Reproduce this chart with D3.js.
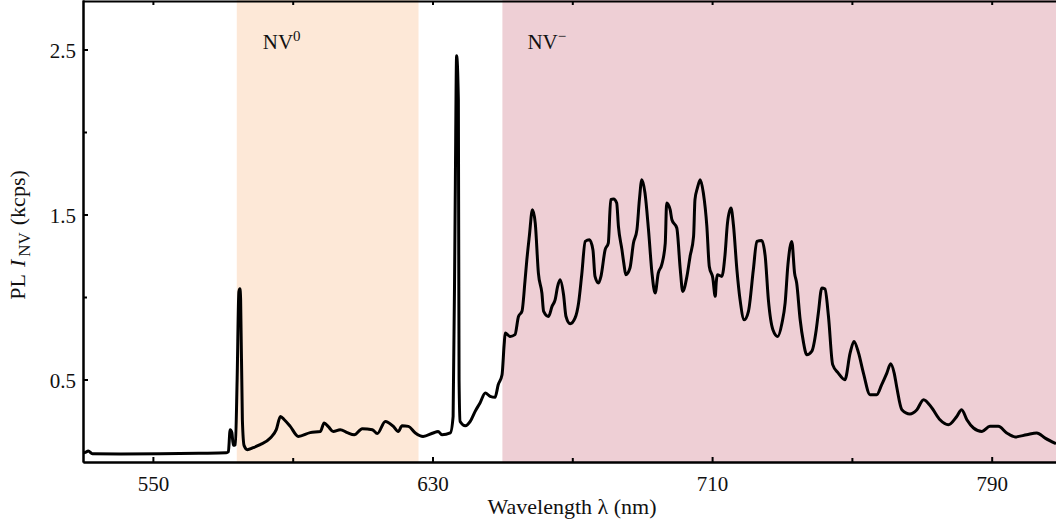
<!DOCTYPE html>
<html>
<head>
<meta charset="utf-8">
<script src="https://cdn.jsdelivr.net/npm/d3@7"></script>
<style>
  body { margin: 0; background: #fff; }
  svg { display: block; font-family: "Liberation Serif", "DejaVu Serif", serif; }
  .axis path, .axis line { stroke: #000; stroke-width: 2; }
  .axis text { font-size: 21px; fill: #111; font-family: "Liberation Serif", "DejaVu Serif", serif; }
  .label { font-size: 21px; fill: #111; font-family: "Liberation Serif", "DejaVu Serif", serif; }
</style>
</head>
<body>
<svg width="1056" height="527"></svg>
<script>
// **** data ****
var wavelength = [530.1, 530.7, 531.5, 532.7, 540.7, 552.1, 563.6, 571.0, 571.6, 572.1, 572.6, 573.0, 573.6, 574.1, 574.6, 574.9, 575.1, 575.6, 576.1, 577.0,
  578.7, 580.7, 583.6, 585.3, 586.5, 587.6, 589.3, 591.6, 595.0, 597.9, 599.0, 600.2, 601.6, 603.6, 605.6, 607.6, 609.9, 612.8, 614.2, 616.5,
  618.8, 620.2, 621.3, 623.1, 625.1, 627.3, 630.2, 631.6, 632.7, 635.1, 635.9, 636.5, 636.9, 637.4, 637.6, 637.9, 639.4, 640.8, 642.2, 643.6,
  645.1, 646.5, 647.9, 648.8, 649.9, 650.5, 650.8, 652.2, 653.6, 654.6, 655.6, 656.5, 657.0, 657.7, 658.6, 659.4, 660.3, 661.3, 661.8, 663.2,
  664.2, 665.1, 665.8, 666.5, 667.5, 668.2, 669.4, 670.8, 671.8, 672.7, 673.7, 674.9, 675.9, 676.5, 677.5, 678.2, 679.4, 680.3, 681.0, 681.8,
  682.7, 683.2, 684.2, 684.8, 685.3, 686.5, 687.5, 688.5, 689.2, 689.9, 690.8, 691.8, 692.8, 693.7, 694.6, 695.6, 696.6, 697.0, 698.0, 698.5,
  699.9, 700.9, 701.6, 702.8, 703.7, 704.7, 705.1, 705.8, 706.6, 707.5, 708.5, 709.2, 710.2, 710.9, 711.2, 711.5, 712.8, 713.7, 714.4, 715.4,
  716.1, 717.1, 718.0, 719.2, 720.4, 721.8, 722.8, 724.2, 725.2, 726.1, 727.4, 728.8, 730.0, 730.9, 731.7, 732.8, 733.6, 734.2, 735.2, 736.1,
  737.1, 738.5, 739.8, 740.4, 741.4, 742.3, 743.3, 744.5, 746.1, 748.0, 749.5, 750.6, 751.9, 753.3, 755.2, 757.1, 758.5, 760.0, 761.1, 762.1,
  762.8, 764.3, 766.6, 768.6, 770.5, 772.9, 775.2, 777.6, 780.0, 781.4, 782.9, 784.8, 787.2, 789.5, 791.9, 794.3, 796.7, 800.0, 802.9, 805.3, 808.4];

var intensity = [0.055, 0.058, 0.067, 0.050, 0.049, 0.050, 0.053, 0.056, 0.062, 0.196, 0.178, 0.101, 0.105, 0.499, 1.032, 1.050, 0.984, 0.256, 0.099, 0.075,
  0.087, 0.105, 0.145, 0.196, 0.276, 0.256, 0.216, 0.155, 0.178, 0.185, 0.236, 0.214, 0.185, 0.196, 0.178, 0.165, 0.202, 0.196, 0.172, 0.246,
  0.216, 0.185, 0.220, 0.216, 0.176, 0.155, 0.176, 0.185, 0.165, 0.176, 0.276, 1.590, 2.462, 2.196, 0.500, 0.246, 0.220, 0.246, 0.307, 0.358,
  0.418, 0.398, 0.392, 0.468, 0.529, 0.711, 0.782, 0.761, 0.772, 0.882, 0.913, 1.105, 1.226, 1.367, 1.529, 1.448, 1.145, 1.024, 0.913, 0.882,
  0.943, 0.984, 1.064, 1.105, 1.014, 0.882, 0.838, 0.873, 0.964, 1.135, 1.337, 1.347, 1.287, 1.125, 1.085, 1.125, 1.287, 1.327, 1.590, 1.594,
  1.570, 1.428, 1.287, 1.196, 1.135, 1.176, 1.327, 1.408, 1.590, 1.711, 1.630, 1.408, 1.145, 1.024, 1.145, 1.196, 1.327, 1.570, 1.529, 1.468,
  1.418, 1.165, 1.034, 1.125, 1.246, 1.367, 1.590, 1.661, 1.711, 1.630, 1.428, 1.185, 1.115, 1.004, 1.093, 1.135, 1.125, 1.256, 1.448, 1.539,
  1.438, 1.165, 0.984, 0.862, 0.913, 1.165, 1.337, 1.343, 1.246, 0.984, 0.802, 0.761, 0.842, 0.964, 1.196, 1.337, 1.145, 1.085, 0.862, 0.731,
  0.650, 0.670, 0.802, 0.903, 1.055, 1.048, 0.882, 0.590, 0.539, 0.499, 0.661, 0.731, 0.661, 0.539, 0.408, 0.408, 0.468, 0.539, 0.596, 0.539,
  0.458, 0.317, 0.291, 0.317, 0.378, 0.327, 0.256, 0.226, 0.276, 0.317, 0.256, 0.206, 0.185, 0.216, 0.216, 0.176, 0.152, 0.165, 0.176, 0.145, 0.111];

var xMajorTicks = [550, 630, 710, 790];
var xMinorTicks = [590, 670, 750];
var yMajorTicks = [0.5, 1.5, 2.5];
var yMinorTicks = [1.0, 2.0];

// shaded bands: [start, end] in nm
var bandNames = ['NV0', 'NV-'];
var bandStart = [574, 650];
var bandEnd = [626, 808.4];
var bandColors = ['#fde8d7', '#eecfd5'];

var svg = d3.select('svg');

var xScale = d3.scaleLinear().domain([530, 808.4]).range([83, 1056]);
var yScale = d3.scaleLinear().domain([0, 2.8]).range([462, 0]);

svg.append('clipPath').attr('id', 'plot')
  .append('rect').attr('x', 83).attr('y', 0).attr('width', 1056 - 83).attr('height', 462);

// bands
svg.selectAll('.band')
  .data(bandNames)
  .enter()
  .append('rect')
  .attr('class', 'band')
  .attr('x', function(d, i) { return xScale(bandStart[i]); })
  .attr('width', function(d, i) { return xScale(bandEnd[i]) - xScale(bandStart[i]); })
  .attr('y', yScale(2.8))
  .attr('height', yScale(0) - yScale(2.8))
  .attr('fill', function(d, i) { return bandColors[i]; });

// band labels
var nv0 = svg.append('text').attr('class', 'label')
  .attr('x', xScale(bandStart[0]) + 26).attr('y', 49);
nv0.append('tspan').text('NV');
nv0.append('tspan').attr('dy', -8).style('font-size', '15px').text('0');

var nvm = svg.append('text').attr('class', 'label')
  .attr('x', xScale(bandStart[1]) + 25).attr('y', 49);
nvm.append('tspan').text('NV');
nvm.append('tspan').attr('dy', -8).style('font-size', '15px').text('\u2212');

// spectrum
var points = wavelength.map(function(w, i) { return [w, intensity[i]]; });
var line = d3.line()
  .curve(d3.curveMonotoneX)
  .x(function(d) { return xScale(d[0]); })
  .y(function(d) { return yScale(d[1]); });

svg.append('path')
  .datum(points)
  .attr('clip-path', 'url(#plot)')
  .attr('d', line)
  .attr('fill', 'none')
  .attr('stroke', '#000')
  .attr('stroke-width', 3)
  .attr('stroke-linejoin', 'round');

// **** axes ****
svg.append('g').attr('class', 'x axis')
  .attr('transform', 'translate(0,462)')
  .call(d3.axisBottom(xScale).tickValues(xMajorTicks).tickSizeInner(-5).tickSizeOuter(0).tickPadding(14)
    .tickFormat(d3.format('d')));

svg.append('g').attr('class', 'x axis minor')
  .attr('transform', 'translate(0,462)')
  .call(d3.axisBottom(xScale).tickValues(xMinorTicks).tickSizeInner(-4).tickSizeOuter(0).tickFormat(''));

svg.append('g').attr('class', 'x axis top')
  .attr('transform', 'translate(0,1)')
  .call(d3.axisTop(xScale).tickValues(xMajorTicks.concat(xMinorTicks)).tickSizeInner(-4).tickSizeOuter(0).tickFormat(''));

svg.append('g').attr('class', 'y axis')
  .attr('transform', 'translate(83,0)')
  .call(d3.axisLeft(yScale).tickValues(yMajorTicks).tickSizeInner(-5).tickSizeOuter(0).tickPadding(7)
    .tickFormat(d3.format('.1f')));

svg.append('g').attr('class', 'y axis minor')
  .attr('transform', 'translate(83,0)')
  .call(d3.axisLeft(yScale).tickValues(yMinorTicks).tickSizeInner(-4).tickSizeOuter(0).tickFormat(''));

svg.selectAll('.axis').attr('font-family', null).attr('font-size', null);
svg.selectAll('.y.axis text').attr('dy', '0.36em');

// axis titles
svg.append('text').attr('class', 'label')
  .attr('x', 572).attr('y', 514)
  .attr('text-anchor', 'middle')
  .style('font-size', '22px')
  .text('Wavelength \u03bb (nm)');

var ylab = svg.append('text').attr('class', 'label')
  .attr('transform', 'translate(25,235) rotate(-90)')
  .attr('text-anchor', 'middle')
  .style('font-size', '22px');
ylab.append('tspan').text('PL');
ylab.append('tspan').attr('dx', 7).style('font-style', 'italic').text('I');
ylab.append('tspan').attr('dy', 5).attr('dx', 3).style('font-size', '17px').text('NV');
ylab.append('tspan').attr('dy', -5).attr('dx', 7).text('(kcps)');
</script>
</body>
</html>
